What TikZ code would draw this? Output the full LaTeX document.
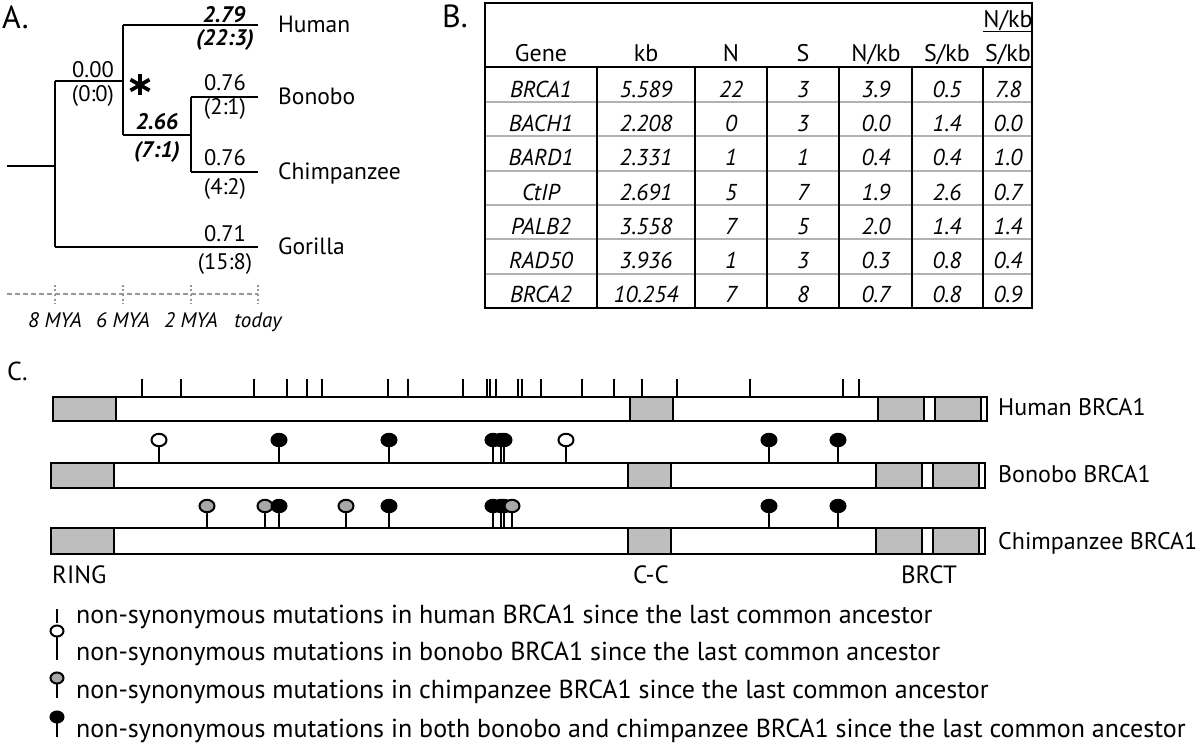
\documentclass[tikz,border=0pt]{standalone}
\usepackage{fontspec}
\setmainfont{PT Sans}
\usetikzlibrary{calc}
\definecolor{dom}{RGB}{190,190,190}
\definecolor{lg}{RGB}{168,168,168}
\definecolor{rowg}{RGB}{178,178,178}
\definecolor{tg}{RGB}{150,150,150}
\newcommand\myfs[1]{\fontsize{#1}{#1}\selectfont}
\begin{document}
\begin{tikzpicture}[x=1pt,y=-1pt,
  tree/.style={line width=2.3pt},
  panel/.style={font=\myfs{32}, inner sep=0pt, anchor=base west},
  species/.style={font=\myfs{23.5}, inner sep=0pt, anchor=base west},
  num/.style={font=\myfs{22.5}, inner sep=0pt, anchor=center},
  bnum/.style={font=\myfs{22.5}\bfseries\itshape, inner sep=0pt, anchor=center},
  tlab/.style={font=\myfs{21}\itshape, inner sep=0pt, anchor=base},
  hdr/.style={font=\myfs{24}, inner sep=0pt, anchor=base},
  cell/.style={font=\myfs{23}\itshape, inner sep=0pt, anchor=base},
  tbord/.style={line width=2.7pt},
  tcol/.style={line width=2pt},
  trow/.style={line width=2pt, rowg},
  bar/.style={line width=2.5pt, fill=white},
  dombox/.style={line width=2.5pt, fill=dom},
  htick/.style={line width=2pt},
  stem/.style={line width=2pt},
  head/.style={draw, line width=2pt},
  glab/.style={font=\myfs{24}, inner sep=0pt, anchor=base west},
  dlab/.style={font=\myfs{25}, inner sep=0pt, anchor=base},
  leg/.style={font=\myfs{26}, inner sep=0pt, anchor=base west}
]
\fill[white] (0,0) rectangle (1200,746);
\useasboundingbox (0,0) rectangle (1200,746);

% ---------------- Panel A ----------------
\node[panel] (pA) at (2,29) {A.};
\coordinate (r0) at (7,166);
\coordinate (r1) at (55,166);
\coordinate (a1) at (55,81);
\coordinate (g1) at (55,247);
\coordinate (a2) at (123,81);
\coordinate (h0) at (123,25);
\coordinate (hc) at (123,135);
\coordinate (h1) at (258,25);
\coordinate (c0) at (191,135);
\coordinate (b0) at (191,97);
\coordinate (ch0) at (191,172);
\coordinate (b1) at (258,97);
\coordinate (ch1) at (258,172);
\coordinate (g2) at (258,247);
\draw[tree] (r0) -- (r1);
\draw[tree] (a1) -- (g1);
\draw[tree] (a1) -- (a2);
\draw[tree] (h0) -- (hc);
\draw[tree] (h0) -- (h1);
\draw[tree] (hc) -- (c0);
\draw[tree] (b0) -- (ch0);
\draw[tree] (b0) -- (b1);
\draw[tree] (ch0) -- (ch1);
\draw[tree] (g1) -- (g2);

\node[num] (n00) at (93,70) {0.00};
\node[num] (n00b) at (93,96) {(0:0)};
\node[bnum] (n279) at (224,15) {2.79};
\node[bnum] (n279b) at (225,40) {(22:3)};
\node[bnum] (n266) at (157,122) {2.66};
\node[bnum] (n266b) at (157,152) {(7:1)};
\node[num] (n076a) at (225,83) {0.76};
\node[num] (n076ab) at (225,109) {(2:1)};
\node[num] (n076b) at (225,158) {0.76};
\node[num] (n076bb) at (225,189) {(4:2)};
\node[num] (n071) at (225,234) {0.71};
\node[num] (n071b) at (225,264) {(15:8)};

\coordinate (ast) at (140,85);
\draw[line width=3.8pt] ($(ast)+(0,-10.5)$) -- ($(ast)+(0,10.5)$);
\draw[line width=3.8pt] ($(ast)+(-9.5,-5.4)$) -- ($(ast)+(9.5,5.4)$);
\draw[line width=3.8pt] ($(ast)+(-9.5,5.4)$) -- ($(ast)+(9.5,-5.4)$);

\node[species] (sH) at (278,33) {Human};
\node[species] (sB) at (278,105) {Bonobo};
\node[species] (sC) at (278,180) {Chimpanzee};
\node[species] (sG) at (278,255) {Gorilla};

\coordinate (tl0) at (7,294);
\coordinate (tl1) at (258,294);
\draw[tg, line width=1.6pt, dash pattern=on 5pt off 3pt] (tl0) -- (tl1);
\foreach \x/\t [count=\k] in {55/8 MYA,123/6 MYA,191/2 MYA,258/today} {
  \draw[tg, line width=1.4pt, dash pattern=on 2pt off 2.5pt] (\x,285) -- (\x,304);
  \node[tlab] (tm\k) at (\x,327) {\t};
}

% ---------------- Panel B ----------------
\node[panel] (pB) at (442,28) {B.};
\foreach \yy in {102,136,171,205,239,274} {
  \draw[trow] (485,\yy) -- (1032,\yy);
}
\foreach \xx in {597,695,767,839,912,983} {
  \draw[tcol] (\xx,67) -- (\xx,308);
}
\draw[tbord] (485,67) -- (1032,67);
\draw[tbord] (485,3) rectangle (1032,308);

\node[hdr] (hG) at (541,62) {Gene};
\node[hdr] (hK) at (646,62) {kb};
\node[hdr] (hN) at (731,62) {N};
\node[hdr] (hS) at (803,62) {S};
\node[hdr] (hNk) at (876,62) {N/kb};
\node[hdr] (hSk) at (947,62) {S/kb};
\node[hdr] (hR1) at (1008,28) {N/kb};
\node[hdr] (hR2) at (1008,62) {S/kb};
\draw[line width=1.6pt] ($(hR1.base west)+(0,3.5)$) -- ($(hR1.base east)+(0,3.5)$);

\foreach \g/\kb/\n/\s/\nk/\sk/\r [count=\i] in {
  BRCA1/5.589/22/3/3.9/0.5/7.8,
  BACH1/2.208/0/3/0.0/1.4/0.0,
  BARD1/2.331/1/1/0.4/0.4/1.0,
  CtIP/2.691/5/7/1.9/2.6/0.7,
  PALB2/3.558/7/5/2.0/1.4/1.4,
  RAD50/3.936/1/3/0.3/0.8/0.4,
  BRCA2/10.254/7/8/0.7/0.8/0.9} {
  \pgfmathsetmacro\yy{97.5+34.2*(\i-1)}
  \node[cell] (c\i g) at (541,\yy) {\g};
  \node[cell] (c\i k) at (646,\yy) {\kb};
  \node[cell] (c\i n) at (731,\yy) {\n};
  \node[cell] (c\i s) at (803,\yy) {\s};
  \node[cell] (c\i nk) at (876,\yy) {\nk};
  \node[cell] (c\i sk) at (947,\yy) {\sk};
  \node[cell] (c\i r) at (1008,\yy) {\r};
}

% ---------------- Panel C ----------------
\node[panel, font=\myfs{26}] (pC) at (7,380) {C.};

% human ticks
\foreach \x in {142,181,254,287,307,322,388,408,463,487,490,496,518,522,541,582,614,642,677,750,843,859} {
  \draw[htick] (\x,379) -- (\x,397);
}
% bars
\draw[bar] (53,397) rectangle (987,421);
\draw[dombox] (53,397) rectangle (116,421);
\draw[dombox] (630,397) rectangle (673,421);
\draw[dombox] (878,397) rectangle (924,421);
\draw[dombox] (935,397) rectangle (981,421);

\foreach \ty/\by in {463/488,528/554} {
  \draw[bar] (51,\ty) rectangle (985,\by);
  \draw[dombox] (51,\ty) rectangle (114,\by);
  \draw[dombox] (628,\ty) rectangle (671,\by);
  \draw[dombox] (876,\ty) rectangle (922,\by);
  \draw[dombox] (933,\ty) rectangle (979,\by);
}

% bonobo lollipops
\foreach \x in {159,279,389,493,501,504,566,769,838} {
  \draw[stem] (\x,440) -- (\x,463);
}
\foreach \x/\f in {159/white,279/black,389/black,493/black,501/black,504/black,566/white,769/black,838/black} {
  \draw[head, fill=\f] (\x,440) ellipse [x radius=7.5, y radius=6.2];
}
% chimp lollipops
\foreach \x in {207,265,279,346,389,493,501,504,512,769,838} {
  \draw[stem] (\x,506) -- (\x,528);
}
\foreach \x/\f in {207/lg,265/lg,279/black,346/lg,389/black,493/black,501/black,504/black,512/lg,769/black,838/black} {
  \draw[head, fill=\f] (\x,506) ellipse [x radius=7.5, y radius=6.2];
}

\node[glab] (lH) at (998,415) {Human BRCA1};
\node[glab] (lB) at (998,482) {Bonobo BRCA1};
\node[glab] (lC) at (998,549) {Chimpanzee BRCA1};

\node[glab, font=\myfs{25}] (dR) at (52,583) {RING};
\node[dlab] (dC) at (651,583) {C-C};
\node[dlab] (dB) at (929,583) {BRCT};

% legend
\draw[htick] (57,609) -- (57,623);
\node[leg] (L1) at (76,623) {non-synonymous mutations in human BRCA1 since the last common ancestor};
\draw[stem] (57,631) -- (57,660);
\draw[head, fill=white] (57,631) ellipse [x radius=6.5, y radius=5.5];
\node[leg] (L2) at (76,660) {non-synonymous mutations in bonobo BRCA1 since the last common ancestor};
\draw[stem] (57,678) -- (57,698);
\draw[head, fill=lg] (57,678) ellipse [x radius=6.5, y radius=5.5];
\node[leg] (L3) at (76,698) {non-synonymous mutations in chimpanzee BRCA1 since the last common ancestor};
\draw[stem] (57,717) -- (57,737);
\draw[head, fill=black] (57,717) ellipse [x radius=6.5, y radius=5.5];
\node[leg] (L4) at (76,737) {non-synonymous mutations in both bonobo and chimpanzee BRCA1 since the last common ancestor};
\end{tikzpicture}
\end{document}
